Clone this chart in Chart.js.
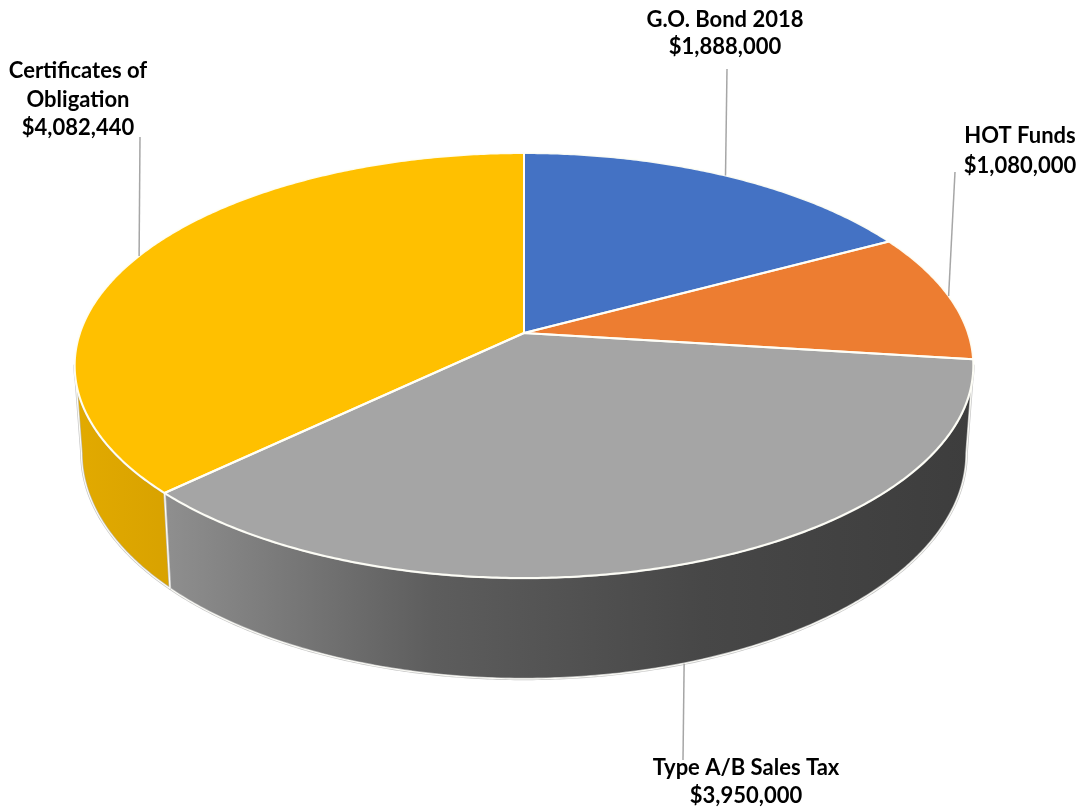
<!DOCTYPE html>
<html>
<head>
<meta charset="utf-8">
<script src="https://cdn.jsdelivr.net/npm/chart.js@4.4.1/dist/chart.umd.min.js"></script>
<style>
  html, body { margin: 0; padding: 0; background: #ffffff; }
  canvas { display: block; }
</style>
</head>
<body>
<canvas id="chart" width="1081" height="810"></canvas>
<script>
// Funding sources (drawn clockwise from 12 o'clock)
const categories = ['G.O. Bond 2018', 'HOT Funds', 'Type A/B Sales Tax', 'Certificates of Obligation'];
const labelLines = [['G.O. Bond 2018'], ['HOT Funds'], ['Type A/B Sales Tax'], ['Certificates of', 'Obligation']];
const amounts = [1888000, 1080000, 3950000, 4082440];

// Styling
const topColors = ['#4472C4', '#ED7D31', '#A5A5A5', '#FFC000'];
const wallShades = [
  ['#3b64ae', '#2d4f8c'],
  ['#d46c27', '#b55b1e'],
  ['#8f8f8f', '#5d5d5d', '#474747', '#3d3d3d'],
  ['#e2aa00', '#d8a200']
];

// Tilted-disc projection: horizontal radius, vertical radius, perspective strength, thickness
const view = { rx: 444, ry: 207.5, persp: 0.153, depth: 85.5, bottomShrink: 0.985 };

// Label layout: text centre x, first baseline, line height, leader-line end point
const labelLayout = [
  { x: 725, y: 27, lh: 27, end: { x: 727, y: 69 } },
  { x: 1020, y: 143, lh: 30, end: { x: 955, y: 172 } },
  { x: 746, y: 775, lh: 28, end: { x: 683, y: 760 } },
  { x: 78, y: 78, lh: 28.5, end: { x: 140, y: 137 } }
];

const fmtMoney = v => '$' + v.toLocaleString('en-US');

function projector(cx, cy) {
  return (t, d) => {
    const s = 1 / (1 - view.persp * Math.sin(t));
    const f = d ? view.bottomShrink : 1;
    return { x: cx + view.rx * Math.cos(t) * s * f, y: cy + view.ry * Math.sin(t) * s + d * s };
  };
}

function arcPoints(P, a, b, d) {
  const pts = [];
  const n = Math.max(2, Math.ceil(Math.abs(b - a) / (Math.PI / 360)));
  for (let i = 0; i <= n; i++) pts.push(P(a + (b - a) * i / n, d));
  return pts;
}

const pie3d = {
  id: 'pie3d',
  beforeDatasetsDraw(chart) {
    const ctx = chart.ctx;
    const arcs = chart.getDatasetMeta(0).data;
    const P = projector(arcs[0].x, arcs[0].y);
    const tA = Math.asin(view.persp), tB = Math.PI - tA;

    ctx.save();
    ctx.lineJoin = 'round';

    // front walls
    arcs.forEach((arc, i) => {
      const a = Math.max(arc.startAngle, tA), b = Math.min(arc.endAngle, tB);
      if (b <= a) return;
      const top = arcPoints(P, a, b, 0);
      const bot = arcPoints(P, b, a, view.depth);
      const xs = top.concat(bot).map(p => p.x);
      const x0 = Math.min(...xs), x1 = Math.max(...xs);
      const g = ctx.createLinearGradient(x0, 0, x1, 0);
      const stops = wallShades[i];
      stops.forEach((c, k) => g.addColorStop(k / (stops.length - 1), c));
      ctx.beginPath();
      top.concat(bot).forEach((p, k) => k ? ctx.lineTo(p.x, p.y) : ctx.moveTo(p.x, p.y));
      ctx.closePath();
      ctx.fillStyle = g;
      ctx.fill();
      ctx.strokeStyle = 'rgba(190,190,190,0.9)';
      ctx.lineWidth = 2.5;
      ctx.stroke();
      ctx.strokeStyle = 'rgba(255,255,250,0.95)';
      ctx.lineWidth = 1.2;
      ctx.stroke();
    });

    // top faces
    arcs.forEach((arc, i) => {
      const pts = arcPoints(P, arc.startAngle, arc.endAngle, 0);
      ctx.beginPath();
      ctx.moveTo(arcs[0].x, arcs[0].y);
      pts.forEach(p => ctx.lineTo(p.x, p.y));
      ctx.closePath();
      ctx.fillStyle = topColors[i];
      ctx.fill();
    });
    arcs.forEach(arc => {
      const pts = arcPoints(P, arc.startAngle, arc.endAngle, 0);
      ctx.beginPath();
      ctx.moveTo(arcs[0].x, arcs[0].y);
      pts.forEach(p => ctx.lineTo(p.x, p.y));
      ctx.closePath();
      ctx.strokeStyle = 'rgba(255,255,248,0.95)';
      ctx.lineWidth = 2;
      ctx.stroke();
    });

    ctx.restore();
    return false;
  },
  afterDraw(chart) {
    const ctx = chart.ctx;
    const arcs = chart.getDatasetMeta(0).data;
    const P = projector(arcs[0].x, arcs[0].y);
    const tA = Math.asin(view.persp), tB = Math.PI - tA;
    const vals = chart.data.datasets[0].data;

    ctx.save();
    arcs.forEach((arc, i) => {
      const mid = (arc.startAngle + arc.endAngle) / 2;
      const front = mid > tA && mid < tB;
      const p = P(mid, front ? view.depth : 0);
      const L = labelLayout[i];
      ctx.beginPath();
      ctx.moveTo(p.x, p.y);
      ctx.lineTo(L.end.x, L.end.y);
      ctx.strokeStyle = '#a6a6a6';
      ctx.lineWidth = 1.5;
      ctx.stroke();

      ctx.fillStyle = '#000000';
      ctx.font = 'bold 22px Lato';
      ctx.textAlign = 'center';
      ctx.textBaseline = 'alphabetic';
      const lines = labelLines[i].concat([fmtMoney(vals[i])]);
      lines.forEach((t, k) => ctx.fillText(t, L.x, L.y + k * L.lh));
    });
    ctx.restore();
  }
};

new Chart(document.getElementById('chart'), {
  type: 'pie',
  data: {
    labels: categories,
    datasets: [{ data: amounts, backgroundColor: topColors, borderWidth: 0 }]
  },
  options: {
    responsive: false,
    animation: false,
    events: [],
    layout: { padding: { left: 324, right: 357, top: 133, bottom: 277 } },
    plugins: { legend: { display: false }, tooltip: { enabled: false } }
  },
  plugins: [pie3d]
});
</script>
</body>
</html>
